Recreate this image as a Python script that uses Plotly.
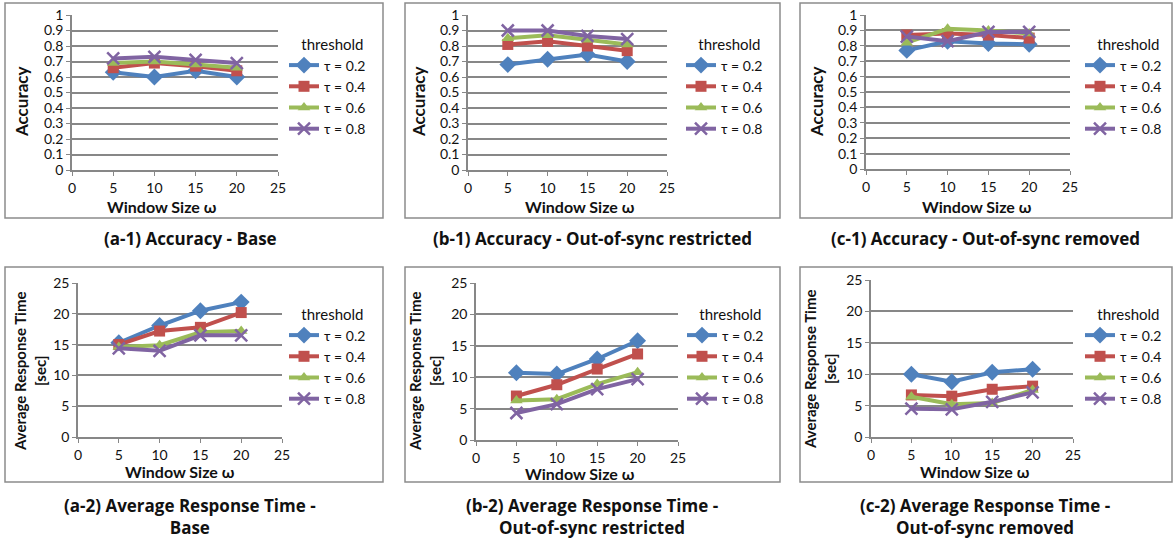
import plotly.graph_objects as go

W, H = 1176, 541

window_sizes = [5, 10, 15, 20]
series_names = ["τ = 0.2", "τ = 0.4", "τ = 0.6", "τ = 0.8"]
series_colors = ["#4F81BD", "#C0504D", "#9BBB59", "#8064A2"]
series_symbols = ["diamond", "square", "triangle-up", "x-thin"]

# Accuracy - Base (a-1)
acc_base_02 = [0.63, 0.60, 0.64, 0.60]
acc_base_04 = [0.66, 0.69, 0.67, 0.64]
acc_base_06 = [0.69, 0.70, 0.68, 0.66]
acc_base_08 = [0.72, 0.73, 0.71, 0.69]

# Accuracy - Out-of-sync restricted (b-1)
acc_restr_02 = [0.68, 0.715, 0.745, 0.70]
acc_restr_04 = [0.81, 0.83, 0.80, 0.77]
acc_restr_06 = [0.85, 0.87, 0.84, 0.81]
acc_restr_08 = [0.90, 0.90, 0.865, 0.845]

# Accuracy - Out-of-sync removed (c-1)
acc_rem_02 = [0.77, 0.83, 0.815, 0.81]
acc_rem_04 = [0.87, 0.88, 0.87, 0.85]
acc_rem_06 = [0.82, 0.91, 0.90, 0.88]
acc_rem_08 = [0.86, 0.83, 0.89, 0.89]

# Average response time - Base (a-2)
rt_base_02 = [15.3, 18.1, 20.5, 21.9]
rt_base_04 = [15.0, 17.2, 17.8, 20.2]
rt_base_06 = [14.6, 14.9, 17.0, 17.2]
rt_base_08 = [14.4, 14.0, 16.5, 16.5]

# Average response time - Out-of-sync restricted (b-2)
rt_restr_02 = [10.7, 10.5, 12.9, 15.8]
rt_restr_04 = [7.0, 8.8, 11.3, 13.7]
rt_restr_06 = [6.3, 6.5, 8.9, 10.8]
rt_restr_08 = [4.3, 5.7, 8.1, 9.7]

# Average response time - Out-of-sync removed (c-2)
rt_rem_02 = [10.0, 8.8, 10.3, 10.8]
rt_rem_04 = [6.7, 6.5, 7.6, 8.1]
rt_rem_06 = [6.4, 5.2, 5.4, 7.5]
rt_rem_08 = [4.5, 4.4, 5.6, 7.1]

captions = [
    "(a-1) Accuracy - Base",
    "(b-1) Accuracy - Out-of-sync restricted",
    "(c-1) Accuracy - Out-of-sync removed",
    "(a-2) Average Response Time -<br>Base",
    "(b-2) Average Response Time -<br>Out-of-sync restricted",
    "(c-2) Average Response Time -<br>Out-of-sync removed",
]

FONT = "Lato, 'Open Sans', sans-serif"
CAPFONT = "'Open Sans', Lato, sans-serif"
GRID = "#878787"
TXT = "#111111"

panels = [
    dict(data=[acc_base_02, acc_base_04, acc_base_06, acc_base_08], kind="acc",
         area=(72, 278, 15, 170), box=(5, 383, 3, 218), leg=(284, 30), cap=(190, 238),
         ytitle=(22, 102), xtitle=(162, 207)),
    dict(data=[acc_restr_02, acc_restr_04, acc_restr_06, acc_restr_08], kind="acc",
         area=(468, 667, 15, 170), box=(405, 780, 3, 218), leg=(681, 30), cap=(592, 238),
         ytitle=(419, 102), xtitle=(580, 207)),
    dict(data=[acc_rem_02, acc_rem_04, acc_rem_06, acc_rem_08], kind="acc",
         area=(866, 1070, 15, 169), box=(800, 1172, 3, 218), leg=(1080, 30), cap=(985, 238),
         ytitle=(817, 102), xtitle=(977, 207)),
    dict(data=[rt_base_02, rt_base_04, rt_base_06, rt_base_08], kind="rt",
         area=(78, 282, 283, 437), box=(5, 383, 267, 482), leg=(284, 300), cap=(190, 516),
         ytitle=(30, 372), xtitle=(180, 471)),
    dict(data=[rt_restr_02, rt_restr_04, rt_restr_06, rt_restr_08], kind="rt",
         area=(476, 678, 283, 440), box=(405, 780, 267, 482), leg=(682, 300), cap=(592, 516),
         ytitle=(425, 372), xtitle=(580, 473)),
    dict(data=[rt_rem_02, rt_rem_04, rt_rem_06, rt_rem_08], kind="rt",
         area=(871, 1073, 280, 437), box=(800, 1172, 267, 482), leg=(1080, 300), cap=(985, 516),
         ytitle=(820, 370), xtitle=(975, 471)),
]


def px(x):
    return x / W


def py(y):
    return 1 - y / H


fig = go.Figure()
annotations = []
shapes = []

marker_sizes = [13, 11, 11, 12]

for i, p in enumerate(panels):
    n = i + 1
    xa = "x" if n == 1 else f"x{n}"
    ya = "y" if n == 1 else f"y{n}"
    leg = "legend" if n == 1 else f"legend{n}"
    for s in range(4):
        is_x = series_symbols[s] == "x-thin"
        fig.add_trace(go.Scatter(
            x=window_sizes, y=p["data"][s], name=series_names[s],
            mode="lines+markers", xaxis=xa, yaxis=ya, legend=leg,
            line=dict(color=series_colors[s], width=4),
            marker=dict(symbol=series_symbols[s], size=marker_sizes[s],
                        color=series_colors[s],
                        line=dict(color=series_colors[s], width=2.5 if is_x else 0)),
        ))
    x0, x1, y0, y1 = p["area"]
    xkey = "xaxis" if n == 1 else f"xaxis{n}"
    ykey = "yaxis" if n == 1 else f"yaxis{n}"
    if p["kind"] == "acc":
        yr, dt = [0, 1], 0.1
        ytitle, ysize = "Accuracy", 17
    else:
        yr, dt = [0, 25], 5
        ytitle, ysize = "Average Response Time<br>[sec]", 15
    fig.update_layout(**{
        xkey: dict(domain=[px(x0), px(x1)], anchor=ya, range=[0, 25], dtick=5,
                   showgrid=False, zeroline=False, showline=True, linecolor=GRID,
                   linewidth=1.5, ticks="outside", ticklen=4, tickcolor=GRID,
                   tickfont=dict(family=FONT, size=14, color=TXT), fixedrange=True),
        ykey: dict(domain=[py(y1), py(y0)], anchor=xa, range=yr, dtick=dt,
                   showgrid=True, gridcolor=GRID, gridwidth=1.8, zeroline=False,
                   showline=True, linecolor=GRID, linewidth=1.5, ticks="outside",
                   ticklen=4, tickcolor=GRID,
                   tickfont=dict(family=FONT, size=14, color=TXT), fixedrange=True),
        leg: dict(x=px(p["leg"][0]), y=py(p["leg"][1]), xref="container", yref="container",
                  xanchor="left", yanchor="top",
                  bgcolor="rgba(0,0,0,0)", borderwidth=0,
                  title=dict(text="    threshold", font=dict(family=FONT, size=15, color=TXT)),
                  font=dict(family=FONT, size=14, color=TXT), tracegroupgap=0,
                  itemwidth=30),
    })
    bx0, bx1, by0, by1 = p["box"]
    shapes.append(dict(type="rect", xref="paper", yref="paper",
                       x0=px(bx0), x1=px(bx1), y0=py(by1), y1=py(by0),
                       line=dict(color="#8c8c8c", width=1.5), fillcolor="rgba(0,0,0,0)",
                       layer="below"))
    annotations.append(dict(text=f"<b>{ytitle}</b>", x=px(p["ytitle"][0]), y=py(p["ytitle"][1]),
                            xref="paper", yref="paper", showarrow=False, textangle=-90,
                            font=dict(family=FONT, size=ysize, color=TXT),
                            xanchor="center", yanchor="middle"))
    annotations.append(dict(text="<b>Window Size ω</b>", x=px(p["xtitle"][0]), y=py(p["xtitle"][1]),
                            xref="paper", yref="paper", showarrow=False,
                            font=dict(family=FONT, size=16, color=TXT),
                            xanchor="center", yanchor="middle"))
    annotations.append(dict(text=f"<b>{captions[i]}</b>", x=px(p["cap"][0]), y=py(p["cap"][1]),
                            xref="paper", yref="paper", showarrow=False,
                            font=dict(family=CAPFONT, size=17, color=TXT),
                            xanchor="center", yanchor="middle"))

fig.update_layout(
    width=W, height=H, margin=dict(l=0, r=0, t=0, b=0, autoexpand=False),
    paper_bgcolor="white", plot_bgcolor="white",
    annotations=annotations, shapes=shapes, showlegend=True,
)

fig.write_html("out.html", config={"displayModeBar": False},
               post_script="document.body.style.margin='0';document.body.style.overflow='hidden';")
